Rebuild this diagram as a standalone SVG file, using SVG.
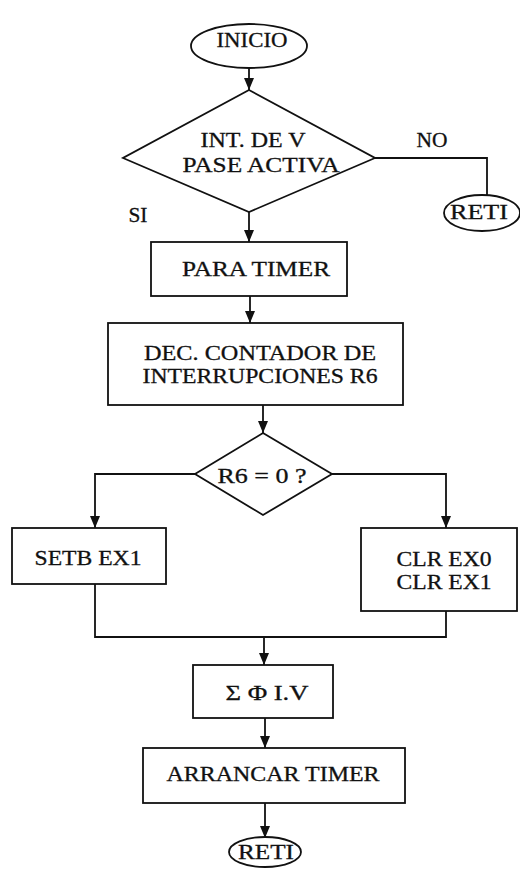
<svg xmlns="http://www.w3.org/2000/svg" width="520" height="869" viewBox="0 0 520 869">
<style>
.s{fill:#fff;stroke:#111;stroke-width:1.8}
.c{fill:none;stroke:#111;stroke-width:1.8}
.t{font-family:"Liberation Serif","Times New Roman",serif;font-size:21px;fill:#111;stroke:#111;stroke-width:0.3;text-anchor:middle}
</style>
<rect width="520" height="869" fill="#fff"/>
<g id="connectors">
<line class="c" x1="249" y1="68" x2="249" y2="90"/>
<polyline class="c" points="375,158 487,158 487,195"/>
<line class="c" x1="249" y1="212" x2="249" y2="242"/>
<line class="c" x1="250" y1="296" x2="250" y2="323"/>
<line class="c" x1="263" y1="405" x2="263" y2="433"/>
<polyline class="c" points="195,474 95,474 95,528"/>
<polyline class="c" points="332,474 446,474 446,528"/>
<polyline class="c" points="95,584 95,637 446,637 446,611"/>
<line class="c" x1="264" y1="637" x2="264" y2="665"/>
<line class="c" x1="265" y1="718" x2="265" y2="748"/>
<line class="c" x1="265" y1="803" x2="265" y2="838"/>
<g fill="#111">
<path d="M244,78 L254,78 L249,90 Z"/>
<path d="M244,230 L254,230 L249,242 Z"/>
<path d="M245,311 L255,311 L250,323 Z"/>
<path d="M258,421 L268,421 L263,433 Z"/>
<path d="M90,516 L100,516 L95,528 Z"/>
<path d="M441,516 L451,516 L446,528 Z"/>
<path d="M259,653 L269,653 L264,665 Z"/>
<path d="M260,736 L270,736 L265,748 Z"/>
<path d="M260,826 L270,826 L265,838 Z"/>
</g>
<text class="t" x="432" y="147" textLength="31" lengthAdjust="spacingAndGlyphs">NO</text>
<text class="t" x="138" y="222" textLength="19" lengthAdjust="spacingAndGlyphs">SI</text>
</g>
<g id="inicio">
<ellipse class="s" cx="249" cy="46" rx="58" ry="22"/>
<text class="t" x="252" y="47" textLength="71" lengthAdjust="spacingAndGlyphs">INICIO</text>
</g>
<g id="decision1">
<polygon class="s" points="249,90 375,158 249,212 123,158"/>
<text class="t" x="253" y="147" textLength="105" lengthAdjust="spacingAndGlyphs">INT. DE V</text>
<text class="t" x="261" y="172" textLength="157" lengthAdjust="spacingAndGlyphs">PASE ACTIVA</text>
</g>
<g id="reti1">
<ellipse class="s" cx="482" cy="213" rx="38" ry="18"/>
<text class="t" x="479" y="219" textLength="58" lengthAdjust="spacingAndGlyphs">RETI</text>
</g>
<g id="paratimer">
<rect class="s" x="151" y="242" width="196" height="54"/>
<text class="t" x="256" y="276" textLength="148" lengthAdjust="spacingAndGlyphs">PARA TIMER</text>
</g>
<g id="dec">
<rect class="s" x="108" y="323" width="295" height="82"/>
<text class="t" x="260" y="360" textLength="232" lengthAdjust="spacingAndGlyphs">DEC. CONTADOR DE</text>
<text class="t" x="260" y="383" textLength="235" lengthAdjust="spacingAndGlyphs">INTERRUPCIONES R6</text>
</g>
<g id="decision2">
<polygon class="s" points="263,433 332,474 263,515 195,474"/>
<text class="t" x="262" y="483" textLength="89" lengthAdjust="spacingAndGlyphs">R6 = 0 ?</text>
</g>
<g id="setb">
<rect class="s" x="12" y="528" width="154" height="56"/>
<text class="t" x="88" y="565" textLength="107" lengthAdjust="spacingAndGlyphs">SETB EX1</text>
</g>
<g id="clr">
<rect class="s" x="361" y="528" width="156" height="83"/>
<text class="t" x="444" y="566" textLength="95" lengthAdjust="spacingAndGlyphs">CLR EX0</text>
<text class="t" x="444" y="589" textLength="95" lengthAdjust="spacingAndGlyphs">CLR EX1</text>
</g>
<g id="sigma">
<rect class="s" x="193" y="665" width="140" height="53"/>
<text class="t" x="267" y="700" textLength="83" lengthAdjust="spacingAndGlyphs">Σ  Φ I.V</text>
</g>
<g id="arrancar">
<rect class="s" x="143" y="748" width="262" height="55"/>
<text class="t" x="273" y="781" textLength="213" lengthAdjust="spacingAndGlyphs">ARRANCAR TIMER</text>
</g>
<g id="reti2">
<ellipse class="s" cx="265" cy="852" rx="36" ry="15"/>
<text class="t" x="266" y="859" textLength="56" lengthAdjust="spacingAndGlyphs">RETI</text>
</g>
</svg>
